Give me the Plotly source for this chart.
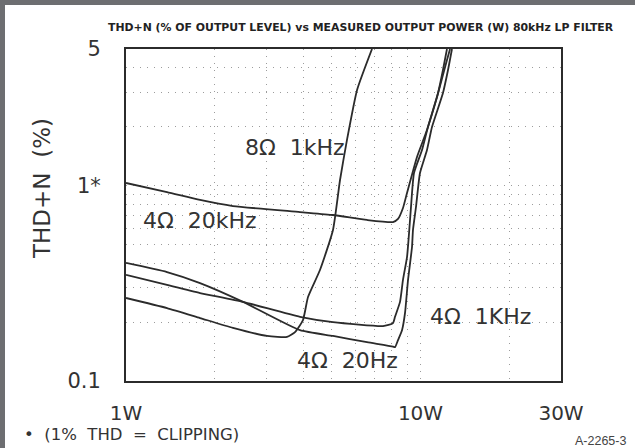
import plotly.graph_objects as go

# ---------------- data ----------------
# 8 ohm, 1 kHz
x_8r_1k = [1.0, 1.378, 1.784, 2.308, 3.011, 3.521, 3.749, 3.990, 4.150, 4.557, 5.045, 5.33, 5.628, 6.09, 6.845]
y_8r_1k = [0.266, 0.236, 0.210, 0.187, 0.170, 0.168, 0.178, 0.205, 0.269, 0.370, 0.593, 1.068, 1.712, 3.085, 5.0]

# 4 ohm, 20 Hz
x_4r_20hz = [1.0, 1.378, 1.784, 2.497, 3.898, 5.045, 6.581, 8.066, 8.193, 8.388, 8.655, 8.861, 9.071,
             9.358, 9.43, 9.654, 9.96, 10.52, 10.94, 11.92, 12.40, 12.79]
y_4r_20hz = [0.402, 0.361, 0.317, 0.254, 0.182, 0.170, 0.158, 0.150, 0.149, 0.162, 0.182, 0.223, 0.329,
             0.485, 0.593, 0.777, 1.16, 1.521, 1.995, 2.978, 3.905, 5.0]

# 4 ohm, 1 kHz
x_4r_1k = [1.0, 1.378, 1.784, 2.497, 3.898, 5.045, 7.459, 8.066, 8.193, 8.52, 8.72, 9.0, 9.107,
           9.284, 9.504, 10.12, 10.60, 11.47, 11.92, 12.30]
y_4r_1k = [0.349, 0.310, 0.282, 0.254, 0.213, 0.200, 0.191, 0.198, 0.213, 0.254, 0.329, 0.431, 0.527,
           0.777, 1.160, 1.521, 1.995, 2.978, 3.905, 5.0]

# 4 ohm, 20 kHz
x_4r_20k = [1.0, 1.378, 1.784, 2.308, 3.898, 5.045, 6.581, 8.066, 8.388, 8.72, 9.0, 9.73, 10.52,
            11.38, 12.30, 12.6]
y_4r_20k = [1.031, 0.927, 0.844, 0.786, 0.732, 0.707, 0.667, 0.651, 0.675, 0.768, 0.917, 1.401, 1.925,
            2.84, 4.39, 5.0]

series = [
    ("8Ω 1kHz", x_8r_1k, y_8r_1k),
    ("4Ω 20Hz", x_4r_20hz, y_4r_20hz),
    ("4Ω 1KHz", x_4r_1k, y_4r_1k),
    ("4Ω 20kHz", x_4r_20k, y_4r_20k),
]

x_tick_vals = [1, 10, 30]
x_tick_text = ["1W", "10W", "30W"]
x_minor_vals = [2, 3, 4, 5, 6, 7, 8, 9, 20]
y_tick_vals = [0.1, 1, 5]
y_tick_text = ["0.1", "1*", "5"]
y_minor_vals = [0.2, 0.3, 0.4, 0.5, 0.6, 0.7, 0.8, 0.9, 2, 3, 4]

# ---------------- layout geometry ----------------
PAGE_W, PAGE_H = 635, 448
OFF = 5                     # grey frame on the left and top of the page
W, H = PAGE_W - OFF, PAGE_H - OFF
PL, PR, PT, PB = 126, 74, 49, 67   # plot area edges in page pixels (from left/right/top/bottom)
L, R, T, B = PL - OFF, PR, PT - OFF, PB
PW, PH = PAGE_W - PL - PR, PAGE_H - PT - PB


def px(x):
    """page pixel x -> paper fraction"""
    return (x - PL) / PW


def py(y):
    """page pixel y -> paper fraction"""
    return (PAGE_H - PB - y) / PH


FONT = "DejaVu Sans"
INK = "#2b2b2b"
TXT = "#333333"
GRID = "#9c9c9c"
DOTS = "1px,6px"
FRAME = "#6d6e71"

fig = go.Figure()
for name, xs, ys in series:
    fig.add_trace(go.Scatter(x=xs, y=ys, mode="lines", name=name,
                             line=dict(color=INK, width=1.8, shape="spline", smoothing=0.5),
                             showlegend=False, hoverinfo="skip"))

axis_common = dict(type="log", showline=True, mirror=True, linecolor=INK, linewidth=2,
                   ticks="", showgrid=True, gridcolor=GRID, griddash=DOTS, gridwidth=1,
                   zeroline=False, tickfont=dict(family=FONT, size=20, color=TXT))

fig.update_xaxes(**axis_common, range=[0, 1.4771], tickmode="array",
                 tickvals=x_tick_vals, ticktext=x_tick_text, ticklabelstandoff=13,
                 minor=dict(tickvals=x_minor_vals, showgrid=True, gridcolor=GRID,
                            griddash=DOTS, gridwidth=1, ticks=""))
fig.update_yaxes(**axis_common, range=[-1, 0.69897], tickmode="array",
                 tickvals=y_tick_vals, ticktext=y_tick_text, ticklabelstandoff=19,
                 minor=dict(tickvals=y_minor_vals, showgrid=True, gridcolor=GRID,
                            griddash=DOTS, gridwidth=1, ticks=""))
fig.update_yaxes(tickfont=dict(size=21))

labels = [
    ("8Ω  1kHz", 295, 147),
    ("4Ω  20kHz", 200, 220),
    ("4Ω  20Hz", 347, 360),
    ("4Ω  1KHz", 480, 316),
]
anns = []
for text, lx, ly in labels:
    anns.append(dict(text=text, x=px(lx), y=py(ly), xref="paper", yref="paper",
                     showarrow=False, xanchor="center", yanchor="middle",
                     font=dict(family=FONT, size=22, color=TXT)))

anns.append(dict(text="THD+N  (%)", x=px(42), y=py(189), xref="paper", yref="paper",
                 showarrow=False, textangle=-90, xanchor="center", yanchor="middle",
                 font=dict(family=FONT, size=23, color=TXT)))
anns.append(dict(text="<b>THD+N (% OF OUTPUT LEVEL) vs MEASURED OUTPUT POWER (W) 80kHz LP FILTER</b>",
                 x=px(361), y=py(27), xref="paper", yref="paper", showarrow=False,
                 xanchor="center", yanchor="middle",
                 font=dict(family=FONT, size=10.9, color="#222222")))
anns.append(dict(text="•  (1%  THD  =  CLIPPING)", x=px(22), y=py(434), xref="paper", yref="paper",
                 showarrow=False, xanchor="left", yanchor="middle",
                 font=dict(family=FONT, size=16.5, color=TXT)))
anns.append(dict(text="A-2265-3", x=px(628), y=py(441), xref="paper", yref="paper",
                 showarrow=False, xanchor="right", yanchor="middle",
                 font=dict(family="Liberation Sans", size=12.5, color="#444444")))

fig.update_layout(width=W, height=H, margin=dict(l=L, r=R, t=T, b=B, pad=0),
                  paper_bgcolor="white", plot_bgcolor="white",
                  annotations=anns, showlegend=False)

post = (
    "document.body.style.margin='0px';"
    "document.body.style.padding='0px';"
    "document.body.style.overflow='hidden';"
    "document.body.style.background='%s';"
    "var g=document.getElementsByClassName('plotly-graph-div')[0];"
    "g.style.marginLeft='%dpx';g.style.marginTop='%dpx';"
) % (FRAME, OFF, OFF)

fig.write_html("out.html", post_script=post)
